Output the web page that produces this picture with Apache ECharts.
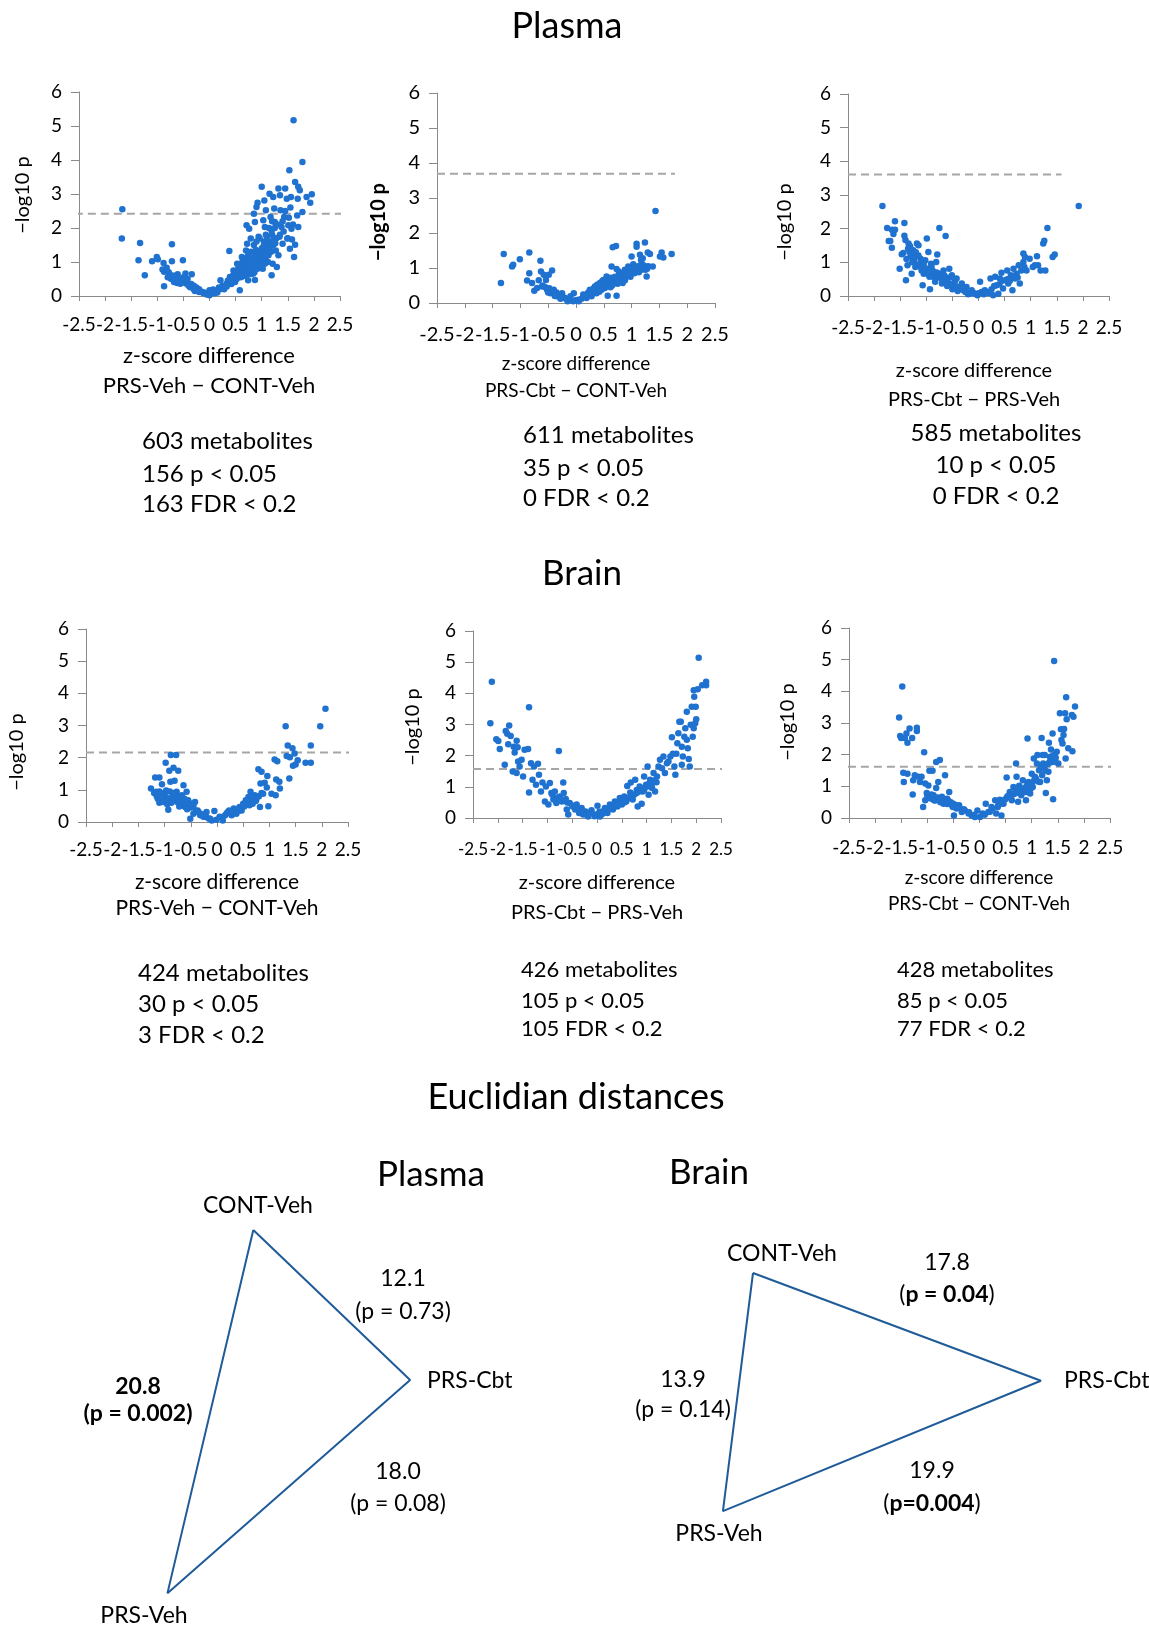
<!DOCTYPE html>
<html><head><meta charset="utf-8">
<script src="https://cdn.jsdelivr.net/npm/echarts@6/dist/echarts.min.js"></script>
<style>html,body{margin:0;padding:0;background:#fff}#c{width:1149px;height:1627px}</style>
</head><body><div id="c"></div>
<script>
// ---------------- DATA ----------------
const xTicks = [-2.5, 2.5, 0.5];      // min, max, interval of z-score axes
const yTicks = [0, 6, 1];             // min, max, interval of -log10 p axes

const panelNames = ['Plasma: PRS-Veh − CONT-Veh','Plasma: PRS-Cbt − CONT-Veh','Plasma: PRS-Cbt − PRS-Veh',
                    'Brain: PRS-Veh − CONT-Veh','Brain: PRS-Cbt − PRS-Veh','Brain: PRS-Cbt − CONT-Veh'];
const comparisonLabels = ['PRS-Veh − CONT-Veh','PRS-Cbt − CONT-Veh','PRS-Cbt − PRS-Veh',
                          'PRS-Veh − CONT-Veh','PRS-Cbt − PRS-Veh','PRS-Cbt − CONT-Veh'];
const fdrThresholds = [2.42, 3.69, 3.61, 2.16, 1.57, 1.62];
const thresholdSpan = [[-2.58, 2.56], [-2.5, 1.78], [-2.5, 1.59], [-2.5, 2.91], [-2.5, 3.2], [-2.77, 2.66]];
const metaboliteCounts = [603, 611, 585, 424, 426, 428];
const pCounts = [156, 35, 10, 30, 105, 85];
const fdrCounts = [163, 0, 0, 3, 105, 77];

const plasmaVehCont = [[-1.67,2.55],[-1.68,1.69],[-1.33,1.56],[-1.36,1.05],[-1.24,0.61],[-1.10,1.02],[-1.01,1.15],[-0.99,1.08],[-0.88,0.97],[-0.87,0.71],[-0.87,0.29],[-0.82,0.83],[-0.72,1.52],[-0.72,1.02],[-0.74,0.51],[-0.51,1.05],[-0.68,0.41],[-0.61,0.64],[-0.56,0.36],[-0.46,0.66],[-0.34,0.64],[-0.44,0.36],[-0.37,0.26],[-0.25,0.22],[-0.18,0.15],[-0.12,0.09],[-0.06,0.05],[0.0,0.17],[0.07,0.19],[0.14,0.12],[0.21,0.46],[0.25,0.22],[0.33,0.36],[0.38,1.32],[0.39,0.56],[0.46,0.75],[0.49,0.41],[0.53,0.95],[0.57,0.75],[0.58,0.17],[0.62,1.15],[0.65,0.85],[0.70,1.34],[0.71,2.08],[0.72,1.54],[0.74,0.46],[0.76,1.98],[0.79,1.69],[0.81,1.05],[0.84,0.66],[0.85,2.42],[0.87,2.18],[0.90,2.62],[0.92,2.74],[0.87,0.47],[0.94,1.74],[0.97,1.29],[1.0,3.21],[1.02,0.80],[1.03,2.23],[1.05,2.81],[1.06,2.03],[1.08,2.52],[1.10,1.74],[1.13,1.20],[1.15,3.01],[1.17,2.32],[1.19,0.61],[1.19,1.93],[1.21,0.95],[1.22,2.91],[1.24,2.57],[1.25,2.18],[1.27,1.34],[1.29,0.85],[1.32,3.16],[1.34,1.74],[1.35,2.96],[1.36,2.52],[1.38,2.03],[1.40,1.54],[1.43,2.32],[1.45,3.16],[1.48,2.86],[1.49,1.69],[1.51,2.08],[1.53,3.70],[1.54,1.39],[1.56,2.91],[1.57,1.98],[1.61,5.17],[1.62,1.15],[1.64,3.35],[1.64,1.51],[1.68,2.37],[1.70,2.03],[1.70,3.21],[1.73,3.11],[1.78,3.94],[1.78,2.47],[1.86,2.91],[1.93,2.74],[1.96,2.99],[1.69,2.86],[1.58,1.66],
 [0.3,0.3],[0.35,0.45],[0.4,0.5],[0.42,0.35],[0.45,0.6],[0.48,0.55],[0.5,0.7],[0.52,0.5],[0.55,0.8],[0.55,0.6],[0.58,0.9],[0.6,0.7],[0.6,0.55],[0.62,0.85],[0.63,1.0],[0.65,0.65],[0.66,0.95],[0.68,0.8],[0.7,1.1],[0.7,0.6],[0.72,0.9],[0.74,1.2],[0.75,0.75],[0.76,1.0],[0.78,0.85],[0.8,1.3],[0.8,0.65],[0.82,1.1],[0.83,0.9],[0.85,1.5],[0.86,0.7],[0.88,1.2],[0.9,1.0],[0.9,1.6],[0.92,0.8],[0.94,1.3],[0.95,1.1],[0.96,1.7],[0.98,0.9],[1.0,1.4],[1.0,1.2],[1.02,1.0],[1.04,1.6],[1.05,1.3],[1.07,1.1],[1.08,1.8],[1.1,1.4],[1.12,1.0],[1.14,2.0],[1.15,1.6],[1.18,1.3],[1.2,2.2],[1.2,1.8],[1.22,1.5],[1.25,2.0],[1.28,1.7],[1.3,2.1],[1.32,1.2],[1.35,1.8],[1.4,2.2],[1.42,1.9],[1.45,2.5],[1.5,1.7],[1.52,2.3],[1.55,2.6],[1.6,2.1],[0.2,0.2],[0.25,0.3],[0.15,0.1],[0.1,0.08],[0.05,0.1],[0.18,0.25],[0.28,0.2],[0.33,0.28],[0.38,0.4],
 [0.44,0.48],[0.51,0.62],[0.57,0.68],[0.61,0.78],[0.67,0.72],[0.69,0.92],[0.73,0.82],[0.77,0.95],[0.79,1.12],[0.84,1.02],[0.87,0.92],[0.89,1.35],[0.93,1.15],[0.97,1.05],[0.99,1.25],[1.03,1.45],[1.06,0.95],[1.09,1.25],[1.11,1.55],[1.16,1.45],[1.23,1.7],[1.26,1.55],[0.64,0.58],[0.71,0.7],[0.81,0.78],[0.91,0.9],
 [-0.1,0.1],[-0.15,0.12],[-0.2,0.2],[-0.25,0.25],[-0.28,0.15],[-0.3,0.3],[-0.35,0.35],[-0.4,0.3],[-0.45,0.45],[-0.5,0.4],[-0.55,0.5],[-0.6,0.45],[-0.65,0.55],[-0.5,0.55],[-0.42,0.5],[-0.3,0.2],[-0.2,0.12],[-0.05,0.05],[0.0,0.02],[-0.62,0.38],[-0.7,0.6],[-0.78,0.7],[-0.8,0.55],[-0.9,0.78]];

const plasmaCbtCont = [[-1.35,0.57],[-1.30,1.40],[-1.15,1.04],[-1.13,1.09],[-1.01,1.25],[-0.88,0.64],[-0.84,1.44],[-0.84,0.85],[-0.79,0.57],[-0.75,0.35],[-0.67,0.65],[-0.64,1.21],[-0.63,0.90],[-0.58,0.81],[-0.54,0.66],[-0.49,0.81],[-0.43,0.93],[-0.70,0.43],[-0.61,0.47],[-0.52,0.38],[-0.46,0.28],[-0.40,0.38],[-0.34,0.19],[-0.25,0.28],[-0.22,0.14],[-0.16,0.09],[-0.10,0.19],[-0.04,0.28],[-0.01,0.08],[0.04,0.09],[0.13,0.24],[0.19,0.14],[0.25,0.38],[0.28,0.19],[0.34,0.47],[0.37,0.28],[0.43,0.57],[0.46,0.38],[0.49,0.66],[0.52,0.43],[0.57,0.21],[0.55,0.76],[0.61,0.57],[0.64,1.04],[0.66,1.59],[0.72,1.63],[0.73,0.97],[0.73,0.21],[0.76,0.71],[0.79,0.85],[0.84,0.57],[0.88,0.95],[0.91,0.76],[0.94,1.04],[0.97,0.85],[1.03,1.11],[1.09,1.69],[1.09,1.61],[1.12,0.95],[1.15,1.38],[1.17,1.23],[1.20,1.28],[1.21,1.04],[1.24,1.73],[1.26,1.04],[1.27,0.76],[1.29,1.44],[1.33,1.40],[1.38,1.04],[1.43,2.63],[1.51,1.33],[1.54,1.44],[1.57,1.30],[1.72,1.40],[1.00,1.33],
 [0.3,0.35],[0.4,0.45],[0.45,0.5],[0.5,0.55],[0.55,0.5],[0.6,0.65],[0.62,0.45],[0.68,0.6],[0.7,0.75],[0.75,0.55],[0.78,0.8],[0.82,0.7],[0.85,0.85],[0.88,0.65],[0.9,0.8],[0.95,0.9],[0.98,0.75],[1.0,0.95],[1.05,0.85],[1.08,1.0],[1.1,0.9],[1.15,1.0],[1.18,0.95],[1.2,1.1],[1.25,0.95],[1.3,1.05],[0.2,0.25],[0.15,0.2],[0.1,0.12],[0.05,0.05],[0.22,0.3],[0.35,0.38],[0.42,0.32],[0.58,0.62],[0.65,0.5],[0.72,0.68],[0.8,0.72],[0.92,0.95],[1.12,1.05],
 [0.32,0.42],[0.38,0.52],[0.47,0.62],[0.53,0.6],[0.63,0.72],[0.67,0.55],[0.74,0.62],[0.77,0.9],[0.83,0.8],[0.87,0.75],[0.93,0.85],[0.96,0.98],[1.02,0.9],[1.07,0.95],[1.13,0.88],[1.16,1.08],[1.22,1.0],[1.28,0.98],
 [-0.05,0.05],[-0.12,0.1],[-0.2,0.15],[-0.3,0.22],[-0.35,0.3],[-0.42,0.35],[-0.48,0.42],[-0.55,0.45],[-0.28,0.12],[-0.15,0.05],[-0.38,0.2],[-0.6,0.5],[-0.5,0.3]];

const plasmaCbtPrs = [[-1.84,2.67],[-1.75,2.02],[-1.72,1.63],[-1.69,1.63],[-1.66,1.43],[-1.66,1.97],[-1.63,1.84],[-1.60,1.97],[-1.60,2.22],[-1.51,0.81],[-1.47,1.24],[-1.44,1.28],[-1.42,2.17],[-1.42,1.79],[-1.40,1.66],[-1.39,0.47],[-1.36,0.91],[-1.34,1.56],[-1.32,1.31],[-1.31,1.48],[-1.28,1.16],[-1.28,0.66],[-1.25,1.36],[-1.23,1.01],[-1.21,0.86],[-1.18,1.56],[-1.15,1.51],[-1.12,0.96],[-1.11,1.11],[-1.09,0.76],[-1.07,0.32],[-1.05,0.66],[-1.02,1.06],[-0.99,1.71],[-0.98,0.81],[-0.96,1.31],[-0.94,0.57],[-0.93,0.20],[-0.91,0.96],[-0.88,0.76],[-0.83,0.42],[-0.81,1.01],[-0.79,1.23],[-0.75,2.02],[-0.75,0.66],[-0.70,0.37],[-0.67,0.76],[-0.63,1.78],[-0.60,0.47],[-0.56,0.81],[-0.51,0.62],[-0.48,0.37],[-0.42,0.52],[-0.39,0.27],[-0.32,0.37],[-0.29,0.17],[-0.23,0.27],[-0.19,0.09],[-0.13,0.17],[-0.07,0.07],[-0.02,0.02],[0.03,0.42],[0.06,0.12],[0.12,0.17],[0.19,0.09],[0.23,0.52],[0.28,0.02],[0.32,0.57],[0.35,0.32],[0.38,0.07],[0.41,0.52],[0.44,0.69],[0.47,0.22],[0.51,0.47],[0.55,0.76],[0.57,0.37],[0.62,0.62],[0.65,0.17],[0.67,0.81],[0.70,0.52],[0.73,0.66],[0.77,0.91],[0.79,0.37],[0.82,0.76],[0.86,1.01],[0.86,1.26],[0.88,0.86],[0.89,1.16],[0.92,0.76],[0.98,1.11],[1.04,0.86],[1.08,0.91],[1.12,1.18],[1.14,0.91],[1.19,0.76],[1.24,1.56],[1.26,1.64],[1.28,0.76],[1.32,2.02],[1.42,1.16],[1.46,1.23],[1.92,2.67],
 [-0.45,0.45],[-0.55,0.55],[-0.65,0.6],[-0.7,0.5],[-0.8,0.7],[-0.85,0.55],[-0.9,0.9],[-1.0,0.8],[-1.05,0.95],[-1.15,1.2],[-1.2,1.3],[-1.3,1.2],[-1.35,1.4],[-0.6,0.3],[-0.5,0.2],[-0.4,0.15],[-0.35,0.22],[-0.25,0.12],[-0.2,0.05],[-0.1,0.1],[0.0,0.08],[0.1,0.05],[0.15,0.12],[0.25,0.2],[0.3,0.3],[0.4,0.35],[0.45,0.45],[0.55,0.5],[0.6,0.45],[0.7,0.6],[0.75,0.55],
 [-1.38,1.1],[-1.27,1.0],[-1.22,1.15],[-1.17,0.9],[-1.1,0.85],[-1.03,0.75],[-0.97,0.65],[-0.9,0.6],[-0.86,0.7],[-0.77,0.55],[-0.72,0.62],[-0.62,0.45],[-0.53,0.35],[-0.44,0.3],[-0.3,0.2],[-0.15,0.08]];

const brainVehCont = [[-1.26,1.04],[-1.18,1.38],[-1.10,1.38],[-1.16,0.94],[-1.12,0.78],[-1.05,1.17],[-1.01,0.88],[-0.98,1.84],[-0.93,0.38],[-0.91,1.59],[-0.89,1.25],[-0.88,2.08],[-0.86,0.68],[-0.83,1.69],[-0.81,1.28],[-0.78,2.08],[-0.77,0.94],[-0.74,1.59],[-0.70,0.57],[-0.67,0.83],[-0.64,1.14],[-0.61,0.47],[-0.58,0.94],[-0.55,0.68],[-0.51,0.10],[-0.48,0.47],[-0.45,0.26],[-0.42,0.62],[-0.37,0.36],[-0.32,0.21],[-0.26,0.16],[-0.20,0.31],[-0.13,0.10],[-0.05,0.34],[-0.01,0.07],[0.05,0.16],[0.11,0.05],[0.18,0.26],[0.23,0.36],[0.28,0.21],[0.32,0.42],[0.37,0.26],[0.43,0.47],[0.47,0.36],[0.50,0.57],[0.55,0.68],[0.60,0.78],[0.64,0.94],[0.68,0.57],[0.72,0.83],[0.79,1.64],[0.82,0.47],[0.83,1.20],[0.85,1.56],[0.88,0.88],[0.91,1.22],[0.95,1.07],[0.96,1.43],[0.98,0.49],[1.04,0.88],[1.10,1.94],[1.12,0.83],[1.15,1.89],[1.13,1.32],[1.19,1.25],[1.20,1.04],[1.31,2.98],[1.33,2.05],[1.35,2.38],[1.38,1.35],[1.39,2.01],[1.44,2.29],[1.45,1.75],[1.48,2.13],[1.50,1.79],[1.54,1.92],[1.69,1.84],[1.79,2.38],[1.79,1.84],[1.97,2.98],[2.07,3.52],
 [-1.2,0.9],[-1.15,0.8],[-1.1,0.95],[-1.05,0.7],[-1.0,0.85],[-0.95,0.75],[-0.9,0.95],[-0.85,0.8],[-0.8,0.7],[-0.75,0.8],[-0.7,0.75],[-0.65,0.65],[-0.6,0.55],[-0.55,0.5],[-0.5,0.45],[-0.45,0.5],[-0.4,0.35],[-0.35,0.3],[-0.3,0.25],[-0.25,0.2],[-0.2,0.15],[-0.15,0.1],[-0.1,0.05],[-1.1,0.6],[-0.95,0.55],[0.15,0.2],[0.2,0.3],[0.35,0.35],[0.4,0.4],[0.45,0.4],[0.55,0.55],[0.6,0.6],[0.65,0.7],[0.7,0.75],[0.75,0.7],[0.8,0.8],[0.85,0.9],
 [-1.13,0.72],[-1.07,0.9],[-1.03,0.62],[-0.97,0.98],[-0.92,0.7],[-0.87,0.6],[-0.82,0.9],[-0.76,0.62],[-0.72,0.48],[-0.62,0.72],[-0.57,0.4],[-0.52,0.58],[0.25,0.28],[0.3,0.32],[0.42,0.35],[0.52,0.48],[0.58,0.62],[0.62,0.52],[0.67,0.78],[0.74,0.65]];

const brainCbtPrs = [[-2.15,3.04],[-2.12,4.37],[-2.03,2.53],[-1.99,2.47],[-1.96,2.21],[-1.86,1.71],[-1.84,2.79],[-1.81,2.70],[-1.79,2.37],[-1.77,2.97],[-1.74,2.63],[-1.70,1.49],[-1.68,2.29],[-1.66,2.10],[-1.62,2.48],[-1.62,1.44],[-1.60,2.27],[-1.59,1.81],[-1.56,1.65],[-1.52,1.87],[-1.49,1.33],[-1.46,2.19],[-1.39,2.21],[-1.37,3.55],[-1.37,0.82],[-1.33,1.76],[-1.30,1.23],[-1.27,1.65],[-1.23,1.07],[-1.19,1.74],[-1.17,1.39],[-1.13,0.85],[-1.10,1.14],[-1.05,0.53],[-1.03,1.01],[-0.98,0.43],[-0.95,1.12],[-0.92,0.80],[-0.88,0.59],[-0.85,0.85],[-0.82,0.48],[-0.77,2.15],[-0.75,0.69],[-0.71,0.53],[-0.68,1.14],[-0.67,0.80],[-0.63,0.61],[-0.61,0.27],[-0.58,0.11],[-0.55,0.48],[-0.49,0.37],[-0.44,0.27],[-0.41,0.43],[-0.36,0.16],[-0.31,0.32],[-0.28,0.11],[-0.23,0.21],[-0.18,0.05],[-0.11,0.25],[-0.04,0.11],[0.01,0.39],[0.06,0.05],[0.11,0.21],[0.16,0.32],[0.21,0.16],[0.26,0.43],[0.32,0.27],[0.36,0.53],[0.41,0.37],[0.46,0.64],[0.50,0.43],[0.55,0.69],[0.59,0.53],[0.61,1.03],[0.67,0.82],[0.68,1.14],[0.72,0.59],[0.77,1.23],[0.80,0.80],[0.82,0.37],[0.86,1.01],[0.90,0.46],[0.92,0.85],[0.95,1.33],[0.99,1.07],[1.02,1.65],[1.04,0.75],[1.07,1.23],[1.11,0.96],[1.14,1.44],[1.17,0.85],[1.21,1.33],[1.24,1.65],[1.27,1.87],[1.31,1.60],[1.34,1.97],[1.37,1.44],[1.41,1.76],[1.44,1.81],[1.48,1.97],[1.51,2.59],[1.53,2.06],[1.56,1.65],[1.58,1.39],[1.60,2.06],[1.62,2.40],[1.64,2.72],[1.66,3.09],[1.69,3.09],[1.71,2.29],[1.71,1.71],[1.73,1.97],[1.76,2.61],[1.78,2.88],[1.81,3.41],[1.81,2.51],[1.83,2.24],[1.85,1.89],[1.87,1.65],[1.89,2.99],[1.91,3.57],[1.93,2.61],[1.95,4.10],[1.96,3.89],[1.98,3.04],[1.99,3.57],[2.00,3.17],[2.03,4.13],[2.05,5.14],[2.12,4.26],[2.20,4.37],[2.20,4.26],[1.95,2.88],
 [0.3,0.35],[0.35,0.4],[0.4,0.5],[0.45,0.45],[0.5,0.55],[0.55,0.5],[0.6,0.6],[0.65,0.65],[0.7,0.7],[0.75,0.75],[0.8,0.9],[0.85,0.85],[0.9,0.95],[0.95,0.9],[1.0,1.0],[1.05,1.1],[1.1,1.05],[1.15,1.2],[1.2,1.15],[-0.3,0.25],[-0.4,0.3],[-0.5,0.4],[-0.6,0.5],[-0.7,0.55],[-0.8,0.65],[-0.9,0.75],[0.0,0.1],[0.05,0.2],[0.1,0.12],[0.15,0.18],[0.2,0.25],[0.25,0.3],[-0.05,0.06],[-0.15,0.15],[-0.2,0.1]];

const brainCbtCont = [[-1.54,3.17],[-1.52,2.59],[-1.50,2.53],[-1.48,4.15],[-1.46,1.43],[-1.45,1.14],[-1.43,2.53],[-1.40,2.67],[-1.38,2.38],[-1.38,1.40],[-1.34,2.83],[-1.29,2.53],[-1.28,0.74],[-1.27,1.19],[-1.24,1.35],[-1.20,2.75],[-1.20,2.85],[-1.17,1.30],[-1.14,1.14],[-1.11,1.30],[-1.08,0.35],[-1.06,2.08],[-1.04,1.09],[-1.04,0.56],[-1.01,0.79],[-0.98,1.03],[-0.96,1.49],[-0.92,0.74],[-0.90,1.49],[-0.87,0.56],[-0.83,0.95],[-0.83,1.77],[-0.79,1.14],[-0.76,1.83],[-0.72,0.67],[-0.69,0.45],[-0.66,1.35],[-0.62,0.61],[-0.58,0.82],[-0.57,0.45],[-0.51,0.35],[-0.49,0.08],[-0.44,0.30],[-0.39,0.40],[-0.34,0.19],[-0.28,0.24],[-0.21,0.14],[-0.15,0.08],[-0.09,0.03],[-0.04,0.24],[0.01,0.03],[0.06,0.14],[0.12,0.45],[0.17,0.19],[0.23,0.35],[0.30,0.56],[0.32,0.14],[0.36,0.40],[0.39,0.58],[0.42,0.08],[0.46,0.45],[0.52,1.28],[0.53,0.67],[0.58,0.82],[0.62,0.56],[0.65,0.98],[0.68,0.77],[0.70,1.72],[0.71,1.30],[0.74,0.51],[0.76,1.02],[0.80,0.72],[0.83,1.19],[0.87,0.88],[0.89,0.56],[0.92,2.51],[0.94,1.14],[0.97,0.77],[1.00,1.40],[1.02,0.98],[1.04,1.88],[1.06,1.30],[1.10,1.72],[1.11,1.99],[1.14,1.51],[1.16,1.14],[1.19,2.53],[1.21,1.99],[1.22,1.72],[1.24,1.62],[1.25,1.99],[1.27,0.79],[1.29,1.19],[1.32,1.46],[1.33,2.38],[1.34,1.77],[1.35,1.93],[1.37,2.16],[1.38,1.88],[1.40,2.67],[1.41,0.59],[1.43,4.96],[1.43,1.99],[1.45,1.77],[1.48,2.09],[1.51,1.72],[1.54,3.31],[1.56,2.80],[1.57,2.46],[1.59,2.35],[1.61,2.62],[1.62,2.81],[1.64,3.31],[1.65,1.88],[1.66,3.81],[1.67,3.12],[1.70,2.20],[1.77,3.25],[1.78,2.11],[1.80,3.20],[1.83,3.52],
 [0.5,0.6],[0.55,0.7],[0.6,0.65],[0.65,0.75],[0.7,0.85],[0.75,0.8],[0.8,0.95],[0.85,0.9],[0.9,1.0],[0.95,1.05],[1.0,1.1],[1.05,1.2],[0.45,0.55],[0.4,0.45],[0.35,0.35],[0.25,0.3],[0.2,0.2],[0.1,0.1],[-0.1,0.1],[-0.2,0.18],[-0.3,0.28],[-0.4,0.35],[-0.45,0.4],[-0.55,0.5],[-0.6,0.55],[-0.7,0.6],[-0.8,0.65],[-0.85,0.55],[-0.9,0.6],[-1.0,0.7],[-0.75,0.5],[-0.65,0.48],[-0.5,0.45],
 [1.08,1.25],[1.12,1.15],[1.18,1.6],[1.2,1.35],[1.26,1.5],[1.3,1.7],[1.36,1.75],[1.39,1.95],[1.42,1.8],[1.46,1.9],[0.78,0.88],[0.88,0.82],[0.92,1.08],[0.98,0.92],[-0.95,0.62],[-0.88,0.72],[-0.78,0.58],[-0.68,0.52],[-0.62,0.44],[-0.52,0.38],[-0.42,0.32],[-0.32,0.25]];

const volcanoData = [plasmaVehCont, plasmaCbtCont, plasmaCbtPrs, brainVehCont, brainCbtPrs, brainCbtCont];

// Euclidean distance triangles: edges CONT-Veh–PRS-Cbt, PRS-Cbt–PRS-Veh, CONT-Veh–PRS-Veh
const triangleGroups = ['CONT-Veh', 'PRS-Cbt', 'PRS-Veh'];
const plasmaDistances = [12.1, 18.0, 20.8];
const plasmaPValues = ['p = 0.73', 'p = 0.08', 'p = 0.002'];
const plasmaSignificant = [false, false, true];
const brainDistances = [17.8, 19.9, 13.9];
const brainPValues = ['p = 0.04', 'p=0.004', 'p = 0.14'];
const brainSignificant = [true, true, false];

// ---------------- LAYOUT / STYLE ----------------
const FONT = 'Lato, "Open Sans", sans-serif';
const BLUE = '#1f72cf';
const AXIS = '#8a8a8a';
const grids = [
  {left: 79, top: 92, width: 261, height: 204},
  {left: 437, top: 93, width: 278, height: 210},
  {left: 848, top: 94, width: 261, height: 202},
  {left: 86, top: 629, width: 262, height: 193},
  {left: 473, top: 631, width: 248, height: 187},
  {left: 849, top: 628, width: 261, height: 190}
];
const xLabelMargin = [19, 22, 22, 18, 23, 20];
const tickFont = [19, 20, 19, 19, 17, 19];
const xTitlePos = [[209, 356, 386, 22], [576, 364, 391, 19], [974, 371, 400, 20], [217, 882, 908, 21], [597, 883, 913, 20], [979, 878, 904, 19]];
const yTitlePos = [[23, 195, 'normal'], [379, 222, 'bold'], [785, 222, 'normal'], [17, 752, 'normal'], [413, 727, 'normal'], [788, 722, 'normal']];
const statsPos = [[142, [441, 474, 504], 24, 'left'], [523, [435, 468, 498], 24, 'left'], [996, [433, 465, 496], 24, 'center'],
                  [138, [973, 1004, 1035], 24, 'left'], [521, [970, 1001, 1029], 22, 'left'], [897, [970, 1001, 1029], 22, 'left']];

function T(x, y, text, size, o) {
  o = o || {};
  const st = {text: text, fontSize: size, fontFamily: FONT, fill: '#000', fontWeight: o.weight || 'normal',
    align: o.align || 'center', textAlign: o.align || 'center', verticalAlign: 'middle', textVerticalAlign: 'middle'};
  if (o.rich) st.rich = o.rich;
  return {type: 'text', x: x, y: y, rotation: o.rot || 0, style: st, z: 10};
}

const option = {animation: false, backgroundColor: '#fff', grid: [], xAxis: [], yAxis: [], series: [], graphic: {elements: []}};
const G = option.graphic.elements;

volcanoData.forEach((pts, i) => {
  const g = grids[i];
  option.grid.push(Object.assign({outerBoundsMode: 'none', containLabel: false}, g));
  option.xAxis.push({gridIndex: i, type: 'value', min: xTicks[0], max: xTicks[1], interval: xTicks[2],
    axisLine: {show: true, onZero: false, lineStyle: {color: AXIS, width: 1}},
    axisTick: {show: true, length: 5, lineStyle: {color: AXIS}},
    axisLabel: {show: true, interval: 0, color: '#000', fontSize: tickFont[i], fontFamily: FONT, margin: xLabelMargin[i], hideOverlap: false, showMinLabel: true, showMaxLabel: true},
    splitLine: {show: false}});
  option.yAxis.push({gridIndex: i, type: 'value', min: yTicks[0], max: yTicks[1], interval: yTicks[2],
    axisLine: {show: true, onZero: false, lineStyle: {color: AXIS, width: 1}},
    axisTick: {show: true, length: 8, lineStyle: {color: AXIS}},
    axisLabel: {show: true, interval: 0, color: '#000', fontSize: i === 4 ? 19 : tickFont[i], fontFamily: FONT, margin: 17, hideOverlap: false},
    splitLine: {show: false}});
  option.series.push({type: 'line', name: panelNames[i] + ' FDR threshold', xAxisIndex: i, yAxisIndex: i, clip: false, silent: true,
    symbol: 'none', z: 1, lineStyle: {color: '#a6a6a6', width: 2, type: [8, 5]},
    data: [[thresholdSpan[i][0], fdrThresholds[i]], [thresholdSpan[i][1], fdrThresholds[i]]]});
  option.series.push({type: 'scatter', name: panelNames[i], xAxisIndex: i, yAxisIndex: i, z: 3,
    symbolSize: 6.5, itemStyle: {color: BLUE, opacity: 1}, data: pts});
  const xt = xTitlePos[i];
  G.push(T(xt[0], xt[1], 'z-score difference', xt[3]));
  G.push(T(xt[0], xt[2], comparisonLabels[i], xt[3]));
  const yt = yTitlePos[i];
  G.push(T(yt[0], yt[1], '−log10 p', 20, {rot: Math.PI / 2, weight: yt[2]}));
  const sp = statsPos[i];
  G.push(T(sp[0], sp[1][0], metaboliteCounts[i] + ' metabolites', sp[2], {align: sp[3]}));
  G.push(T(sp[0], sp[1][1], pCounts[i] + ' p < 0.05', sp[2], {align: sp[3]}));
  G.push(T(sp[0], sp[1][2], fdrCounts[i] + ' FDR < 0.2', sp[2], {align: sp[3]}));
});

// Section titles
G.push(T(567, 26, 'Plasma', 36));
G.push(T(582, 574, 'Brain', 35));
G.push(T(576, 1097, 'Euclidian distances', 36));
G.push(T(431, 1175, 'Plasma', 35));
G.push(T(709, 1173, 'Brain', 35));

// Triangle geometry from the three distances (law of cosines)
function triangle(d, thetaDeg) {
  const ab = d[0], bc = d[1], ac = d[2];
  const phi = Math.acos((ab * ab + ac * ac - bc * bc) / (2 * ab * ac));
  const t = thetaDeg * Math.PI / 180;
  const A = [0, 0], C = [ac * Math.cos(t), ac * Math.sin(t)], B = [ab * Math.cos(t + phi), ab * Math.sin(t + phi)];
  return [A, B, C, A];
}
const triDefs = [
  {d: plasmaDistances, theta: -103.3, scale: 17.94, anchor: [253.3, 1230], box: {left: 100, top: 1190, width: 400, height: 430}},
  {d: brainDistances, theta: -97.2, scale: 17.27, anchor: [753, 1273], box: {left: 650, top: 1230, width: 450, height: 320}}
];
triDefs.forEach((td, k) => {
  const gi = 6 + k, b = td.box, s = td.scale;
  option.grid.push(Object.assign({outerBoundsMode: 'none', containLabel: false}, b));
  const xmin = (b.left - td.anchor[0]) / s, ymax = (td.anchor[1] - b.top) / s;
  option.xAxis.push({gridIndex: gi, type: 'value', show: false, min: xmin, max: xmin + b.width / s});
  option.yAxis.push({gridIndex: gi, type: 'value', show: false, min: ymax - b.height / s, max: ymax});
  option.series.push({type: 'line', name: k ? 'Brain distances' : 'Plasma distances', xAxisIndex: gi, yAxisIndex: gi, clip: false,
    symbol: 'none', silent: true, lineStyle: {color: '#1f5b98', width: 2}, data: triangle(td.d, td.theta)});
});

// Triangle labels
const rich = (sz) => ({n: {fontSize: sz, fontFamily: FONT, fill: '#000'}, b: {fontSize: sz, fontFamily: FONT, fontWeight: 'bold', fill: '#000'}});
const TS = 23;
function pLabel(x, y, p, sig, allBold) {
  if (allBold) return T(x, y, '(' + p + ')', TS, {weight: 'bold'});
  if (sig) return T(x, y, '{n|(}{b|' + p + '}{n|)}', TS, {rich: rich(TS)});
  return T(x, y, '(' + p + ')', TS);
}
// Plasma
G.push(T(258, 1206, triangleGroups[0], TS));
G.push(T(427, 1381, triangleGroups[1], TS, {align: 'left'}));
G.push(T(144, 1616, triangleGroups[2], TS));
G.push(T(403, 1279, plasmaDistances[0].toFixed(1), TS));
G.push(pLabel(403, 1312, plasmaPValues[0], plasmaSignificant[0], false));
G.push(T(398, 1472, plasmaDistances[1].toFixed(1), TS));
G.push(pLabel(398, 1504, plasmaPValues[1], plasmaSignificant[1], false));
G.push(T(138, 1387, plasmaDistances[2].toFixed(1), TS, {weight: 'bold'}));
G.push(pLabel(138, 1414, plasmaPValues[2], plasmaSignificant[2], true));
// Brain
G.push(T(782, 1254, triangleGroups[0], TS));
G.push(T(1064, 1381, triangleGroups[1], TS, {align: 'left'}));
G.push(T(719, 1534, triangleGroups[2], TS));
G.push(T(947, 1263, brainDistances[0].toFixed(1), TS));
G.push(pLabel(947, 1295, brainPValues[0], brainSignificant[0], false));
G.push(T(932, 1471, brainDistances[1].toFixed(1), TS));
G.push(pLabel(932, 1504, brainPValues[1], brainSignificant[1], false));
G.push(T(683, 1380, brainDistances[2].toFixed(1), TS));
G.push(pLabel(683, 1410, brainPValues[2], brainSignificant[2], false));

const chart = echarts.init(document.getElementById('c'), null, {renderer: 'canvas'});
chart.setOption(option);
</script></body></html>
